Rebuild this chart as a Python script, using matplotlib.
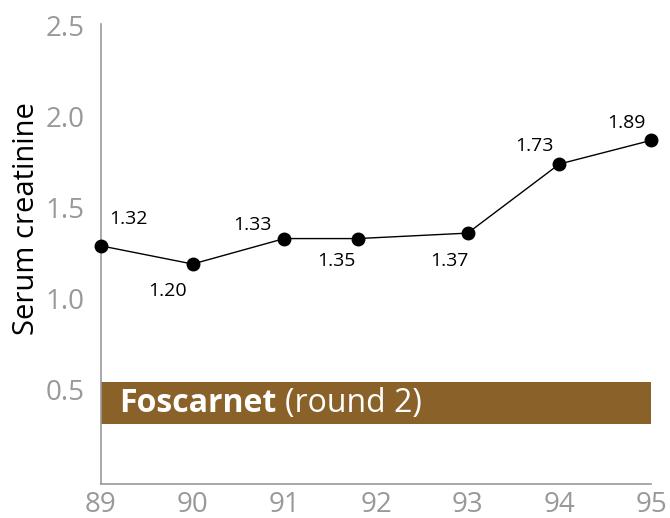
import matplotlib
matplotlib.use("Agg")
import matplotlib.pyplot as plt

# data
days = [89, 90, 91, 91.8, 93, 94, 95]
creatinine = [1.29, 1.19, 1.33, 1.33, 1.36, 1.74, 1.87]
point_labels = ["1.32", "1.20", "1.33", "1.35", "1.37", "1.73", "1.89"]
x_ticks = [89, 90, 91, 92, 93, 94, 95]
y_ticks = [0.5, 1.0, 1.5, 2.0, 2.5]
drug_span = (89, 95)
drug_band = (0.31, 0.54)

# label offsets (pixels) relative to each point
offsets = [(27, 27), (-25, -27), (-32, 14), (-21, -22), (-18, -28), (-25, 18), (-25, 17)]

plt.rcParams['font.family'] = ['Open Sans', 'DejaVu Sans']

fig = plt.figure(figsize=(6.7, 5.18), dpi=100)
ax = fig.add_axes([0.1507, 0.0656, 0.821, 0.888])

ax.fill_between(drug_span, drug_band[0], drug_band[1], color="#8a6229", lw=0, zorder=1)
t1 = ax.text(89.2, sum(drug_band) / 2, "Foscarnet", color="white", fontsize=23,
             fontweight="bold", va="center", ha="left", zorder=3)
ax.annotate("(round 2)", xy=(1, 0), xycoords=t1, xytext=(8, 0),
            textcoords="offset pixels", color="white", fontsize=23,
            va="bottom", ha="left", zorder=3)

ax.plot(days, creatinine, color="black", lw=1, marker="o", ms=9, zorder=4, clip_on=False)
for x, y, lab, off in zip(days, creatinine, point_labels, offsets):
    ax.annotate(lab, xy=(x, y), xytext=off, textcoords="offset pixels",
                ha="center", va="center", fontsize=14, color="black")

ax.set_xlim(89, 95)
ax.set_ylim(-0.02, 2.51)
ax.set_xticks(x_ticks)
ax.set_yticks(y_ticks)
ax.set_yticklabels([f"{v:.1f}" for v in y_ticks])
ax.tick_params(length=0, labelsize=20, labelcolor="#999999", pad=12)
ax.tick_params(axis="x", pad=5)
for s in ["top", "right"]:
    ax.spines[s].set_visible(False)
for s in ["left", "bottom"]:
    ax.spines[s].set_color("#999999")
    ax.spines[s].set_linewidth(1.2)
ax.set_ylabel("Serum creatinine", fontsize=21, color="black", va="center")
ax.yaxis.set_label_coords(-0.135, 0.578)

fig.savefig("out.png", dpi=100)
